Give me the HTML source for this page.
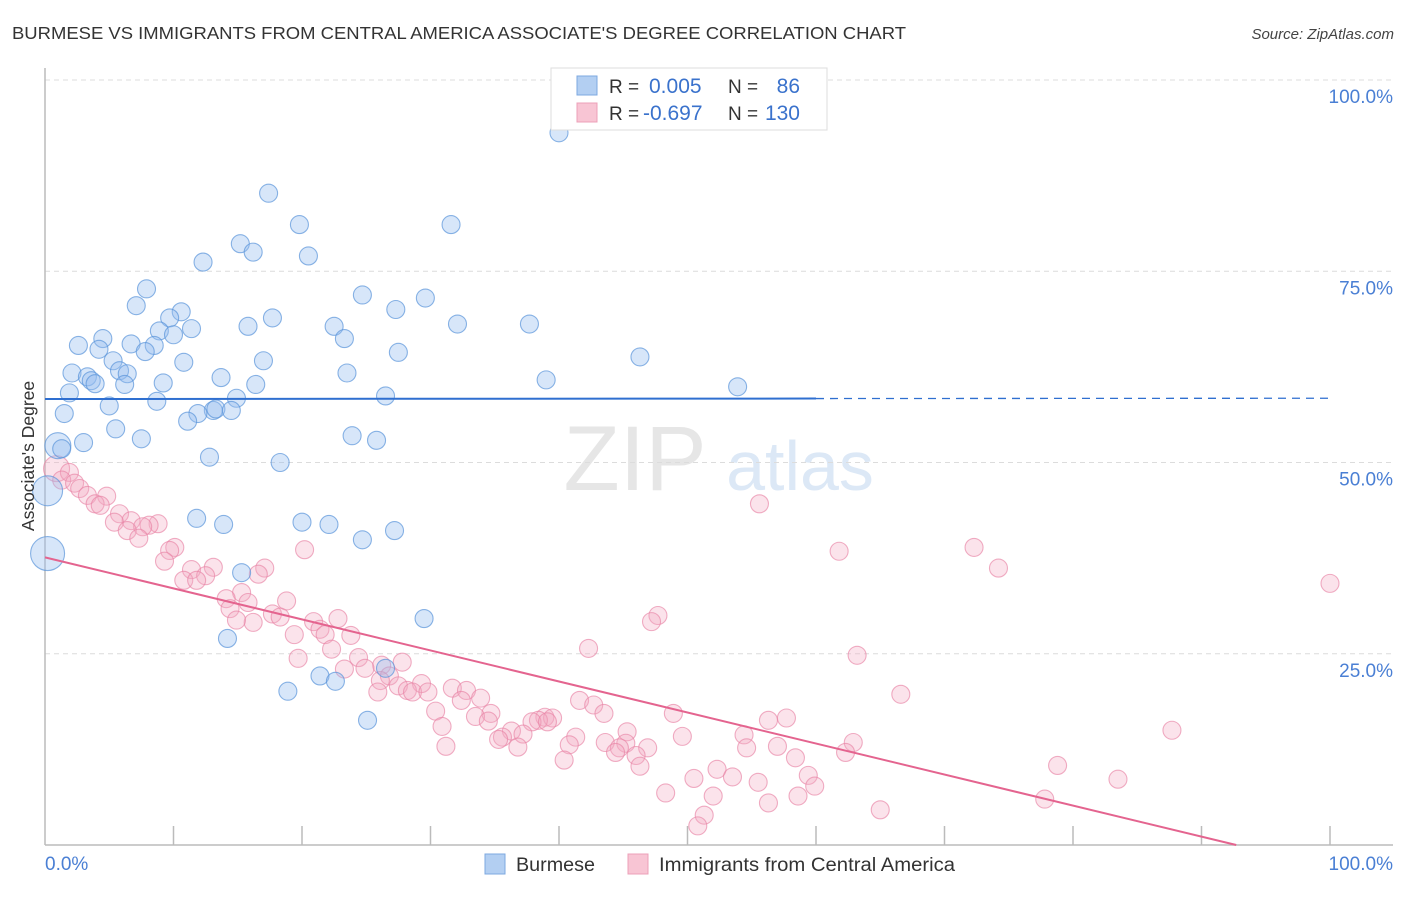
<!DOCTYPE html>
<html><head><meta charset="utf-8"><style>
body{margin:0;background:#fff;font-family:"Liberation Sans",sans-serif;}
svg text{font-family:"Liberation Sans",sans-serif;}
</style></head><body>
<svg id="chart" width="1406" height="892" xmlns="http://www.w3.org/2000/svg">
<text x="12" y="39" font-size="17.5" fill="#333" textLength="894" lengthAdjust="spacingAndGlyphs">BURMESE VS IMMIGRANTS FROM CENTRAL AMERICA ASSOCIATE'S DEGREE CORRELATION CHART</text>
<text x="1394" y="39" font-size="15" fill="#444" font-style="italic" text-anchor="end">Source: ZipAtlas.com</text>
<g>
<text x="635" y="490" font-size="92" fill="#e6e6e6" font-family="Liberation Serif" text-anchor="middle">ZIP</text>
<text x="800" y="490" font-size="70" fill="#dce8f6" text-anchor="middle">atlas</text>
</g>
<g id="grid"></g>
<g id="axes"></g>
<g id="pts"></g>
<g id="lines"></g>
<text transform="translate(34,456) rotate(-90)" font-size="17.5" fill="#333" text-anchor="middle">Associate's Degree</text>
<g>
<rect x="551" y="68" width="276" height="62" fill="#fff" stroke="#ddd"/>
<rect x="577" y="76" width="20" height="19" fill="#b3cff2" stroke="#7ea8e0"/>
<rect x="577" y="103" width="20" height="19" fill="#f8c5d4" stroke="#eca0b8"/>
<text x="609" y="93" font-size="19" fill="#333">R =</text>
<text x="649" y="93" font-size="21" fill="#3a72cc">0.005</text>
<text x="728" y="93" font-size="19" fill="#333">N =</text>
<text x="800" y="93" font-size="21" fill="#3a72cc" text-anchor="end">86</text>
<text x="609" y="120" font-size="19" fill="#333">R =</text>
<text x="643" y="120" font-size="21" fill="#3a72cc">-0.697</text>
<text x="728" y="120" font-size="19" fill="#333">N =</text>
<text x="800" y="120" font-size="21" fill="#3a72cc" text-anchor="end">130</text>
</g>
<g>
<rect x="485" y="854" width="20" height="20" fill="#b3cff2" stroke="#7ea8e0"/>
<text x="516" y="871" font-size="19" fill="#333" textLength="79" lengthAdjust="spacingAndGlyphs">Burmese</text>
<rect x="628" y="854" width="20" height="20" fill="#f8c5d4" stroke="#eca0b8"/>
<text x="659" y="871" font-size="19" fill="#333" textLength="296" lengthAdjust="spacingAndGlyphs">Immigrants from Central America</text>
</g>
</svg>
<script>
const yTicks=[25,50,75,100];
const yTickLabels=["25.0%","50.0%","75.0%","100.0%"];
const xTickVals=[0,10,20,30,40,50,60,70,80,90,100];
const blueX=[40.0,17.4,19.8,31.6,15.2,16.2,20.5,12.3,7.9,24.7,29.6,7.1,10.6,9.7,27.3,17.7,32.1,37.7,15.8,22.5,8.9,11.4,10.0,4.5,23.3,2.6,6.7,8.5,4.2,7.8,27.5,46.3,5.3,10.8,17.0,2.1,5.8,6.4,3.3,23.5,13.7,3.6,6.2,9.2,16.4,39.0,53.9,3.9,1.9,8.7,14.9,26.5,5.0,13.1,13.3,14.5,11.9,1.5,11.1,5.5,23.9,25.8,7.5,3.0,1.0,1.3,12.8,18.3,0.2,11.8,20.0,22.1,13.9,27.2,24.7,0.2,15.3,29.5,14.2,26.5,21.4,22.6,18.9,25.1];
const blueY=[93.1,85.2,81.1,81.1,78.6,77.5,77.0,76.2,72.7,71.9,71.5,70.5,69.7,68.9,70.0,68.9,68.1,68.1,67.8,67.8,67.2,67.5,66.7,66.2,66.2,65.3,65.5,65.3,64.8,64.5,64.4,63.8,63.3,63.1,63.3,61.7,62.0,61.6,61.2,61.7,61.1,60.7,60.2,60.4,60.2,60.8,59.9,60.3,59.1,58.0,58.4,58.7,57.4,56.8,57.0,56.8,56.4,56.4,55.4,54.4,53.5,52.9,53.1,52.6,52.2,51.8,50.7,50.0,46.3,42.7,42.2,41.9,41.9,41.1,39.9,38.1,35.6,29.6,27.0,23.1,22.1,21.4,20.1,16.3];
const blueBig={64:13,68:15,75:17};
const pinkX=[0.9,1.9,1.3,2.3,2.7,3.3,4.8,3.9,4.3,5.8,6.7,5.4,8.8,8.1,7.6,6.4,7.3,10.1,9.7,20.2,9.3,61.8,72.3,74.2,55.6,100,17.1,13.1,11.4,12.5,16.6,10.8,11.8,15.3,14.1,15.8,18.8,14.4,17.7,18.3,47.7,47.2,22.8,16.2,14.9,20.9,21.4,21.8,19.4,23.8,42.3,22.3,19.7,63.2,24.4,27.8,26.2,24.9,23.3,26.8,26.1,29.3,27.5,31.7,25.9,28.2,28.6,29.8,32.8,66.6,33.9,32.4,41.6,42.7,43.5,30.4,34.7,48.9,33.5,34.5,38.9,39.5,38.4,37.9,39.1,56.3,57.7,30.9,87.7,36.3,45.3,54.4,49.6,35.6,35.3,41.3,37.2,62.9,43.6,45.2,40.8,31.2,57.0,36.8,44.7,46.9,54.6,44.4,46.0,62.3,40.4,58.4,46.3,78.8,52.3,59.4,50.5,53.5,83.5,55.5,59.9,48.3,52.0,58.6,77.8,56.3,65.0,51.3,50.8];
const pinkY=[49.2,48.7,47.7,47.3,46.6,45.7,45.6,44.6,44.4,43.3,42.4,42.2,42.0,41.8,41.6,41.1,40.1,38.9,38.5,38.6,37.1,38.4,38.9,36.2,44.6,34.2,36.2,36.3,36.0,35.2,35.4,34.6,34.6,33.0,32.2,31.7,31.9,30.9,30.2,29.8,30.0,29.2,29.6,29.1,29.4,29.2,28.2,27.5,27.5,27.4,25.7,25.6,24.4,24.8,24.5,23.9,23.5,23.1,23.0,22.1,21.5,21.1,20.8,20.5,20.0,20.2,20.0,20.0,20.2,19.7,19.2,18.9,18.9,18.3,17.2,17.5,17.2,17.2,16.8,16.2,16.7,16.6,16.3,16.1,16.1,16.3,16.6,15.5,15.0,14.9,14.8,14.4,14.2,14.1,13.8,14.1,14.5,13.4,13.4,13.3,13.1,12.9,12.9,12.8,12.7,12.7,12.7,12.1,11.7,12.1,11.1,11.4,10.3,10.4,9.9,9.1,8.7,8.9,8.6,8.2,7.7,6.8,6.4,6.4,6.0,5.5,4.6,3.9,2.5];
const pinkBig={0:13};
const blueTrend=[58.3,58.4];
const pinkTrend=[37.6,-0.4056];

const X0=45,X1=1330,Y0=845,Y100=80;
const sx=v=>X0+(X1-X0)*v/100;
const sy=v=>Y0-(Y0-Y100)*v/100;
const NS="http://www.w3.org/2000/svg";
function mk(tag,parent,attrs){const e=document.createElementNS(NS,tag);for(const k in attrs)e.setAttribute(k,attrs[k]);parent.appendChild(e);return e;}
const grid=document.getElementById('grid'),axes=document.getElementById('axes'),pts=document.getElementById('pts'),lines=document.getElementById('lines');
yTicks.forEach((t,i)=>{
  const l=mk('line',grid,{x1:X0,x2:1393,y1:sy(t),y2:sy(t),stroke:'#dcdcdc','stroke-dasharray':'5,4'});
  
  
  const tx=mk('text',axes,{x:1393,y:sy(t)+23,'font-size':19,fill:'#4a7fd4','text-anchor':'end'});
  tx.textContent=yTickLabels[i];
  
  
});
let a=mk('line',axes,{x1:X0,x2:X0,y1:68,y2:Y0,stroke:'#bbb','stroke-width':1.5});


a=mk('line',axes,{x1:X0,x2:1393,y1:Y0,y2:Y0,stroke:'#bbb','stroke-width':1.5});


xTickVals.forEach(v=>{if(v===0)return;const t=mk('line',axes,{x1:sx(v),x2:sx(v),y1:826,y2:Y0,stroke:'#bbb','stroke-width':1.5});
  
  });
let t0=mk('text',axes,{x:45,y:870,'font-size':19,fill:'#4a7fd4'});t0.textContent='0.0%';


let t1=mk('text',axes,{x:1393,y:870,'font-size':19,fill:'#4a7fd4','text-anchor':'end'});t1.textContent='100.0%';


pinkX.forEach((x,i)=>{const c=mk('circle',pts,{cx:sx(x),cy:sy(pinkY[i]),r:pinkBig[i]||9,fill:'rgba(244,170,195,0.33)',stroke:'rgba(232,130,165,0.65)','stroke-width':1.1});
  
  });
blueX.forEach((x,i)=>{const c=mk('circle',pts,{cx:sx(x),cy:sy(blueY[i]),r:blueBig[i]||9,fill:'rgba(150,188,238,0.38)',stroke:'rgba(90,148,218,0.7)','stroke-width':1.1});
  
  });
const by=x=>blueTrend[0]+(blueTrend[1]-blueTrend[0])*x/100;
let bl=mk('line',lines,{x1:sx(0),y1:sy(by(0)),x2:sx(60),y2:sy(by(60)),stroke:'#2f6fd0','stroke-width':2});


bl=mk('line',lines,{x1:sx(60),y1:sy(by(60)),x2:sx(100),y2:sy(by(100)),stroke:'#2f6fd0','stroke-width':1.3,'stroke-dasharray':'8,6'});


const pxEnd=-pinkTrend[0]/pinkTrend[1];
let pl=mk('line',lines,{x1:sx(0),y1:sy(pinkTrend[0]),x2:sx(pxEnd),y2:sy(0),stroke:'#e4648f','stroke-width':2});


</script>
</body></html>
